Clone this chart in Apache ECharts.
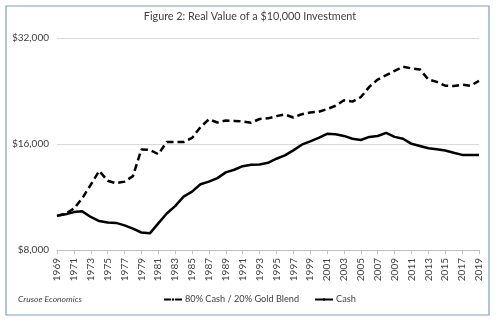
<!DOCTYPE html>
<html>
<head>
<meta charset="utf-8">
<script src="https://cdn.jsdelivr.net/npm/echarts@6/dist/echarts.min.js"></script>
<style>html,body{margin:0;padding:0;background:#fff}#c{width:500px;height:329px}</style>
</head>
<body>
<div id="c"></div>
<script>
var years = [];
for (var y = 1969; y <= 2019; y++) years.push(String(y));
var blend = [10000,10150,10480,11230,12260,13420,12580,12380,12510,12970,
  15440,15390,14970,16210,16210,16210,16650,17870,18800,18420,
  18650,18610,18540,18390,18840,18920,19200,19410,19030,19440,
  19670,19750,20100,20550,21290,21110,21750,23240,24390,25090,
  25810,26520,26230,26060,24390,24020,23420,23370,23570,23420,24170];
var cash = [10000,10100,10250,10300,9930,9670,9570,9550,9400,9200,
  8970,8920,9520,10160,10660,11340,11720,12300,12510,12800,
  13290,13520,13840,13960,14000,14150,14530,14850,15350,15930,
  16280,16650,17100,17050,16870,16560,16420,16760,16860,17210,
  16760,16560,16020,15800,15560,15460,15330,15110,14900,14900,14900];
var yTicks = [8000, 16000, 32000];
var FONT = 'Lato';
var chart = echarts.init(document.getElementById('c'));
function k(a){ return a.map(function(v){ return v/1000; }); }
chart.setOption({
  animation: false,
  textStyle: { fontFamily: FONT },
  title: {
    text: 'Figure 2: Real Value of a $10,000 Investment',
    left: 'center', top: 11, padding: 0,
    textStyle: { fontFamily: FONT, fontSize: 10.8, fontWeight: 'normal', color: '#404040' }
  },
  grid: { left: 57, right: 21, top: 38, bottom: 79, containLabel: false },
  legend: {
    bottom: 25, left: 163, padding: 0,
    itemWidth: 18, itemHeight: 3, itemGap: 15,
    textStyle: { fontFamily: FONT, fontSize: 9.2, color: '#404040', padding: [0,0,0,-2] },
    data: ['80% Cash / 20% Gold Blend', 'Cash']
  },
  xAxis: {
    type: 'category', data: years, boundaryGap: false,
    axisLine: { lineStyle: { color: '#bfbfbf', width: 1 } },
    axisTick: { show: true, interval: 1, length: 4, lineStyle: { color: '#bfbfbf' } },
    axisLabel: { interval: 1, rotate: 90, margin: 8, fontFamily: FONT, fontSize: 10, color: '#404040' },
    splitLine: { show: false }
  },
  yAxis: {
    type: 'log', logBase: 2, min: yTicks[0]/1000, max: yTicks[2]/1000,
    axisLine: { show: false }, axisTick: { show: false },
    axisLabel: {
      margin: 8, fontFamily: FONT, fontSize: 10, color: '#404040',
      formatter: function(v){ return '$' + Math.round(v*1000).toLocaleString('en-US'); }
    },
    splitLine: { show: true, lineStyle: { color: '#d9d9d9', width: 1 } }
  },
  series: [
    { name: '80% Cash / 20% Gold Blend', type: 'line', data: k(blend), symbol: 'none',
      lineStyle: { color: '#000', width: 2.5, type: [7,4] }, itemStyle: { color: '#000' } },
    { name: 'Cash', type: 'line', data: k(cash), symbol: 'none',
      lineStyle: { color: '#000', width: 2.5 }, itemStyle: { color: '#000' } }
  ],
  graphic: [
    { type: 'rect', shape: { x: 6, y: 6, width: 483, height: 309 },
      style: { fill: 'none', stroke: '#7f9cc4', lineWidth: 1.2 }, silent: true },
    { type: 'text', left: 18, top: 295,
      style: { text: 'Crusoe Economics', font: 'italic 8.5px Lato', fill: '#404040' } }
  ]
});
</script>
</body>
</html>
